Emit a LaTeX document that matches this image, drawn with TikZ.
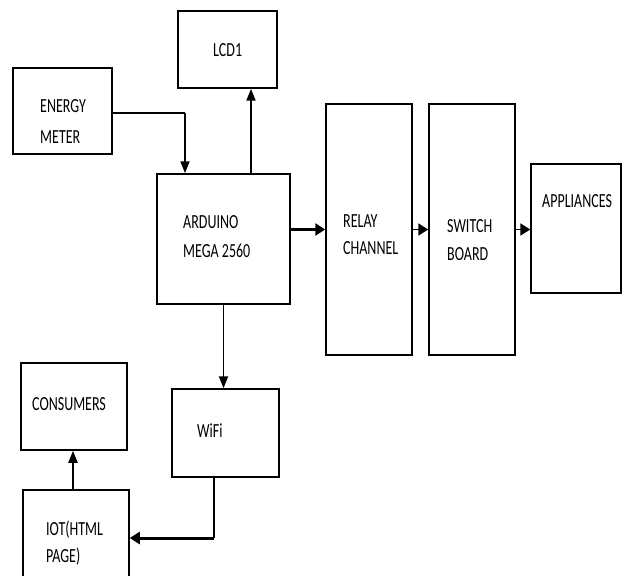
\documentclass[tikz,border=0pt]{standalone}
\usepackage{fontspec}
\setmainfont{Carlito}[FakeStretch=0.7]
\usetikzlibrary{arrows.meta}
\begin{document}
\begin{tikzpicture}[x=1pt,y=-1pt,
  blk/.style={draw,line width=1.5pt,inner sep=0pt},
  lbl/.style={anchor=base west,inner sep=0pt,font=\fontsize{20}{20}\selectfont},
  conn/.style={line width=1.9pt},
  thick conn/.style={line width=3pt},
  harr/.style={-{Triangle[length=10pt,width=12pt]}},
  varr/.style={-{Triangle[length=12pt,width=9pt]}}]
\path[use as bounding box, clip] (0,0) rectangle (623,575);
\fill[white] (0,0) rectangle (623,575);
% blocks
\node[blk,minimum width=99pt,minimum height=77pt] (lcd) at (227.5,49.5) {};
\node[blk,minimum width=99pt,minimum height=86pt] (em) at (62.5,111) {};
\node[blk,minimum width=133pt,minimum height=130pt] (ard) at (223.5,239) {};
\node[blk,minimum width=86pt,minimum height=251pt] (relay) at (369,229.5) {};
\node[blk,minimum width=86pt,minimum height=251pt] (sw) at (472,229.5) {};
\node[blk,minimum width=90pt,minimum height=129pt] (app) at (576,228.5) {};
\node[blk,minimum width=107pt,minimum height=88pt] (wifi) at (225.5,433) {};
\node[blk,minimum width=106pt,minimum height=87pt] (cons) at (74,406.5) {};
\node[blk,minimum width=106pt,minimum height=96pt] (iot) at (76,538) {};
% labels
\node[lbl] (tlcd) at (213,57) {LCD1};
\node[lbl] (tem1) at (40,113) {ENERGY};
\node[lbl] (tem2) at (40,143) {METER};
\node[lbl] (tard1) at (183,228) {ARDUINO};
\node[lbl] (tard2) at (183,257) {MEGA 2560};
\node[lbl] (trel1) at (343,227) {RELAY};
\node[lbl] (trel2) at (343,254) {CHANNEL};
\node[lbl] (tsw1) at (447,232) {SWITCH};
\node[lbl] (tsw2) at (447,260) {BOARD};
\node[lbl] (tapp) at (542,207) {APPLIANCES};
\node[lbl] (tcons) at (32,410) {CONSUMERS};
\node[lbl] (twifi) at (197,437) {WiFi};
\node[lbl] (tiot1) at (46,535) {IOT(HTML};
\node[lbl] (tiot2) at (46,562) {PAGE)};
% connectors
\coordinate (emo) at ([yshift=-2pt]em.east);
\coordinate (ardin) at ([xshift=-38.5pt]ard.north);
\draw[line width=1.2pt] (emo) -- (emo -| ardin);
\draw[conn,varr] (emo -| ardin) -- (ardin);
\coordinate (ardup) at ([xshift=27.5pt]ard.north);
\draw[conn,varr] (ardup) -- (ardup |- lcd.south);
\draw[thick conn,harr] (relay.west -| ard.east) -- (relay.west);
\draw[conn,harr] (relay.east) -- (sw.west);
\draw[conn,harr] (sw.east) -- (sw.east -| app.west);
\draw[conn,varr] (ard.south) -- (ard.south |- wifi.north);
\coordinate (wout) at ([xshift=-11.5pt]wifi.south);
\draw[conn] (wout) -- (wout |- iot.east);
\draw[thick conn,harr] (wout |- iot.east) -- (iot.east);
\coordinate (iout) at ([xshift=-3pt]iot.north);
\draw[conn,varr] (iout) -- (iout |- cons.south);
\end{tikzpicture}
\end{document}
